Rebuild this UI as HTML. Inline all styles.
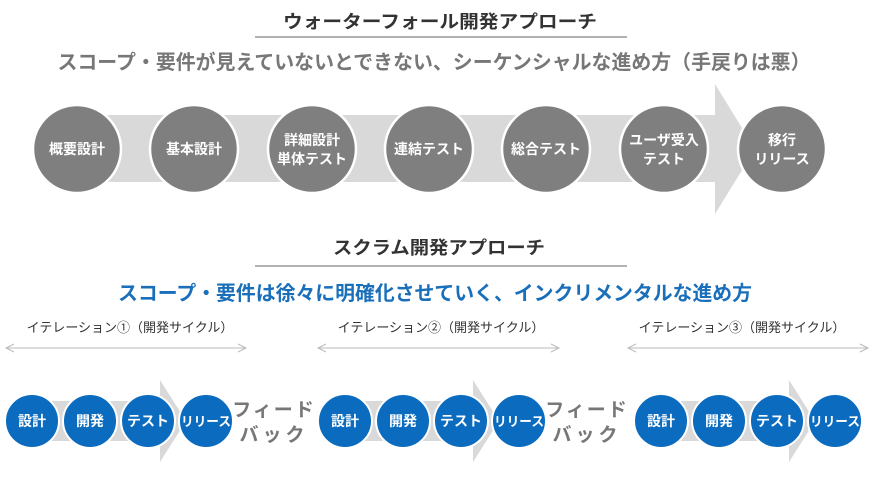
<!DOCTYPE html>
<html><head><meta charset="utf-8"><style>
body{margin:0;background:#fff;}
svg{display:block;font-family:"Liberation Sans","Noto Sans CJK JP",sans-serif;}
</style></head><body>
<svg width="875" height="477" viewBox="0 0 875 477" xmlns="http://www.w3.org/2000/svg">
<text x="440" y="28" text-anchor="middle" font-size="18" font-weight="bold" fill="#333" textLength="314" lengthAdjust="spacingAndGlyphs">ウォーターフォール開発アプローチ</text>
<line x1="255" y1="37" x2="627" y2="37" stroke="#666" stroke-width="1"/>
<text x="434" y="69" text-anchor="middle" font-size="20" font-weight="bold" fill="#777" textLength="753" lengthAdjust="spacingAndGlyphs">スコープ・要件が見えていないとできない、シーケンシャルな進め方（手戻りは悪）</text>
<polygon points="75,115 715,115 715,84 755,149 715,214 715,182 75,182" fill="#d9d9d9"/>
<g fill="#7f7f7f" stroke="#fff" stroke-width="2.5">
<circle cx="77" cy="149" r="44"/><circle cx="194" cy="149" r="44"/><circle cx="312" cy="149" r="44"/><circle cx="429" cy="149" r="44"/><circle cx="546" cy="149" r="44"/><circle cx="664" cy="149" r="44"/><circle cx="782" cy="149" r="44"/>
</g>
<g fill="#fff" font-size="14" font-weight="bold" text-anchor="middle">
<text x="77" y="154">概要設計</text><text x="194" y="154">基本設計</text>
<text x="312" y="145">詳細設計</text><text x="312" y="164">単体テスト</text>
<text x="429" y="154">連結テスト</text><text x="546" y="154">総合テスト</text>
<text x="664" y="145">ユーザ受入</text><text x="664" y="164">テスト</text>
<text x="782" y="145">移行</text><text x="782" y="164">リリース</text>
</g>
<text x="439" y="254" text-anchor="middle" font-size="18" font-weight="bold" fill="#333" textLength="212" lengthAdjust="spacingAndGlyphs">スクラム開発アプローチ</text>
<line x1="255" y1="266" x2="627" y2="266" stroke="#666" stroke-width="1"/>
<text x="435" y="300" text-anchor="middle" font-size="20" font-weight="bold" fill="#1a6fba" textLength="634" lengthAdjust="spacingAndGlyphs">スコープ・要件は徐々に明確化させていく、インクリメンタルな進め方</text>
<defs>
<g id="row">
<polygon points="32,401 160,401 160,380 186,421 160,462 160,441 32,441" fill="#d9d9d9"/>
<g fill="#0a6bbf" stroke="#fff" stroke-width="2">
<circle cx="32" cy="421" r="27"/><circle cx="90" cy="421" r="27"/><circle cx="148" cy="421" r="27"/><circle cx="206" cy="421" r="27"/>
</g>
<g fill="#fff" font-size="14" font-weight="bold" text-anchor="middle">
<text x="32" y="426">設計</text><text x="90" y="426">開発</text><text x="148" y="426">テスト</text><text x="206" y="426" font-size="13" textLength="50" lengthAdjust="spacingAndGlyphs">リリース</text>
</g>
</g>
</defs>
<g font-size="13" fill="#333" text-anchor="middle">
<text x="130" y="332">イテレーション①（開発サイクル）</text>
<text x="441" y="332">イテレーション②（開発サイクル）</text>
<text x="742" y="332">イテレーション③（開発サイクル）</text>
</g>
<g stroke="#bbb" fill="none">
<line x1="6" y1="348" x2="246" y2="348"/><polyline points="14,344 6,348 14,352"/><polyline points="238,344 246,348 238,352"/>
<line x1="318" y1="348" x2="559" y2="348"/><polyline points="326,344 318,348 326,352"/><polyline points="551,344 559,348 551,352"/>
<line x1="628" y1="348" x2="868" y2="348"/><polyline points="636,344 628,348 636,352"/><polyline points="860,344 868,348 860,352"/>
</g>
<use href="#row"/>
<use href="#row" x="313"/>
<use href="#row" x="629"/>
<g fill="#777" font-size="19" font-weight="bold" text-anchor="middle">
<text x="274" y="416" letter-spacing="2">フィード</text><text x="274" y="441" letter-spacing="4">バック</text>
<text x="587" y="416" letter-spacing="2">フィード</text><text x="587" y="441" letter-spacing="4">バック</text>
</g>
</svg>
</body></html>
